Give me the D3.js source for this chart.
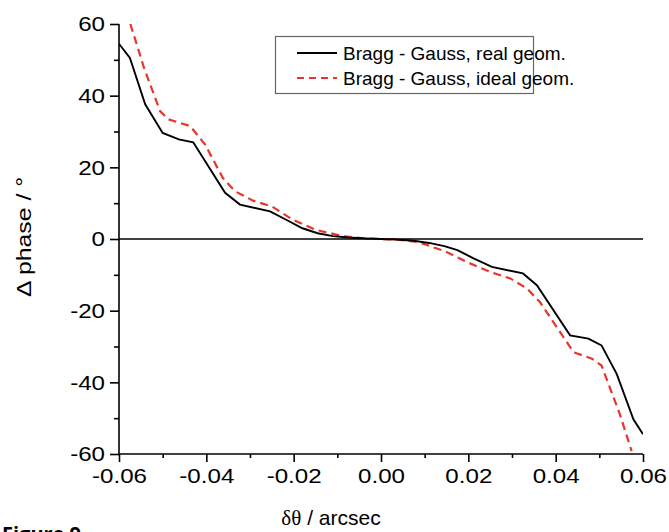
<!DOCTYPE html>
<html>
<head>
<meta charset="utf-8">
<script src="https://cdn.jsdelivr.net/npm/d3@7"></script>
<style>
  html, body { margin: 0; padding: 0; background: #fff; }
  svg { display: block; }
  text { font-family: "Liberation Sans", Arial, sans-serif; fill: #000; }
</style>
</head>
<body>
<svg id="chart" width="669" height="532"></svg>
<script>
// Phase difference vs. angular offset, Bragg-Gauss model
const realX = [-0.060, -0.0575, -0.054, -0.050, -0.0463, -0.043, -0.0357, -0.0323, -0.0254, -0.0216, -0.018, -0.0145, -0.011, -0.0075, -0.0035, 0.000, 0.0035, 0.0075, 0.011, 0.0145, 0.0175, 0.0212, 0.0254, 0.0325, 0.0357, 0.0433, 0.0475, 0.0505, 0.054, 0.0578, 0.060];
const realY = [54.5, 50.5, 37.6, 29.6, 27.8, 27.0, 12.9, 9.6, 7.7, 5.3, 3.0, 1.6, 0.8, 0.4, 0.15, 0.0, -0.15, -0.5, -1.1, -2.0, -3.1, -5.4, -7.8, -9.6, -12.9, -26.9, -27.8, -29.7, -37.7, -50.3, -54.5];

const idealX = [-0.0574, -0.0542, -0.0506, -0.0487, -0.0437, -0.0403, -0.0362, -0.0334, -0.0293, -0.025, -0.0201, -0.0148, -0.0087, -0.004, 0.000, 0.004, 0.0087, 0.015, 0.0196, 0.025, 0.0296, 0.0334, 0.0364, 0.0441, 0.0483, 0.0505, 0.0547, 0.0574];
const idealY = [60.0, 47.5, 35.7, 33.4, 31.5, 26.4, 17.0, 13.3, 10.7, 9.1, 5.3, 2.5, 0.8, 0.2, 0.0, -0.2, -0.9, -3.6, -6.4, -9.2, -11.0, -13.8, -17.6, -31.6, -33.4, -35.3, -48.9, -59.2];

const xTicks = [-0.06, -0.04, -0.02, 0.00, 0.02, 0.04, 0.06];
const xMinorTicks = [-0.05, -0.03, -0.01, 0.01, 0.03, 0.05];
const yTicks = [-60, -40, -20, 0, 20, 40, 60];
const yMinorTicks = [-50, -30, -10, 10, 30, 50];

const seriesNames = ["Bragg - Gauss, real geom.", "Bragg - Gauss, ideal geom."];

const svg = d3.select("#chart");
const x = d3.scaleLinear().domain([-0.06, 0.06]).range([119, 643]);
const y = d3.scaleLinear().domain([-60, 60]).range([454, 24]);

const loc = d3.formatLocale({decimal: ".", thousands: ",", grouping: [3], currency: ["", ""], minus: "-"});
const fx = loc.format(".2f");
const fy = loc.format("d");

// tick labels use a horizontally widened face
const WIDEN = 1.15;

svg.append("clipPath").attr("id", "plot")
  .append("rect").attr("x", x(-0.06)).attr("y", y(60) - 2)
  .attr("width", x(0.06) - x(-0.06)).attr("height", y(-60) - y(60) + 2);

// zero reference line
svg.append("line")
  .attr("x1", x(-0.06)).attr("x2", x(0.06))
  .attr("y1", y(0)).attr("y2", y(0))
  .attr("stroke", "#000").attr("stroke-width", 1.6);

const line = d3.line().x(d => x(d[0])).y(d => y(d[1]));
const realData = realX.map((v, i) => [v, realY[i]]);
const idealData = idealX.map((v, i) => [v, idealY[i]]);

svg.append("path").datum(idealData)
  .attr("clip-path", "url(#plot)")
  .attr("d", line).attr("fill", "none")
  .attr("stroke", "#e8352b").attr("stroke-width", 2.2)
  .attr("stroke-dasharray", "8,5");

svg.append("path").datum(realData)
  .attr("clip-path", "url(#plot)")
  .attr("d", line).attr("fill", "none")
  .attr("stroke", "#000").attr("stroke-width", 1.9);

// x axis
const xAxis = svg.append("g").attr("transform", `translate(0,${y(-60)})`)
  .call(d3.axisBottom(x).tickValues(xTicks).tickFormat(fx).tickSize(8).tickPadding(6));
svg.append("g").attr("transform", `translate(0,${y(-60)})`)
  .call(d3.axisBottom(x).tickValues(xMinorTicks).tickFormat("").tickSize(4))
  .call(g => g.select(".domain").remove());

// y axis
const yAxis = svg.append("g").attr("transform", `translate(${x(-0.06)},0)`)
  .call(d3.axisLeft(y).tickValues(yTicks).tickFormat(fy).tickSize(9).tickPadding(5));
svg.append("g").attr("transform", `translate(${x(-0.06)},0)`)
  .call(d3.axisLeft(y).tickValues(yMinorTicks).tickFormat("").tickSize(5))
  .call(g => g.select(".domain").remove());

svg.selectAll(".domain").attr("stroke", "#000").attr("stroke-width", 1.6);
svg.selectAll(".tick line").attr("stroke", "#000").attr("stroke-width", 1.6);
svg.selectAll(".tick text")
  .style("font-family", "'Liberation Sans', Arial, sans-serif")
  .style("font-size", "21px").attr("fill", "#000");
xAxis.selectAll(".tick text").attr("transform", `scale(${WIDEN},1)`);
yAxis.selectAll(".tick text").attr("x", -14 / WIDEN).attr("transform", `scale(${WIDEN},1)`);
xAxis.selectAll(".domain").attr("d", `M${x(-0.06)},0H${x(0.06)}`);
yAxis.selectAll(".domain").attr("d", `M0,${y(-60)}V${y(60)}`);

// axis titles
svg.append("text")
  .attr("transform", `translate(31,${y(0) - 2}) rotate(-90) scale(1.18,1)`)
  .attr("text-anchor", "middle")
  .style("font-size", "21px")
  .text("Δ phase / °");

const xt = svg.append("text")
  .attr("x", 331).attr("y", 525)
  .attr("text-anchor", "middle")
  .style("font-size", "21px");
xt.append("tspan").style("font-family", "'Liberation Serif', 'Times New Roman', serif").text("δθ");
xt.append("tspan").text(" / arcsec");

// legend
const lg = svg.append("g");
lg.append("rect")
  .attr("x", 275.5).attr("y", 36.5).attr("width", 258).attr("height", 57)
  .attr("fill", "#fff").attr("stroke", "#666").attr("stroke-width", 1.2);
lg.append("line").attr("x1", 297).attr("x2", 337).attr("y1", 53).attr("y2", 53)
  .attr("stroke", "#000").attr("stroke-width", 1.8);
lg.append("line").attr("x1", 297).attr("x2", 337).attr("y1", 78).attr("y2", 78)
  .attr("stroke", "#e8352b").attr("stroke-width", 2)
  .attr("stroke-dasharray", "7,5");
lg.selectAll("text.leg").data(seriesNames).join("text")
  .attr("class", "leg")
  .attr("x", 343).attr("y", (d, i) => 60 + i * 25)
  .style("font-size", "19px")
  .text(d => d);

// caption
svg.append("text")
  .attr("x", 2).attr("y", 541)
  .style("font-family", "'Open Sans', 'Liberation Sans', sans-serif")
  .style("font-weight", "bold").style("font-size", "20px")
  .attr("fill", "#5d6a74")
  .text("Figure 9");
</script>
</body>
</html>
